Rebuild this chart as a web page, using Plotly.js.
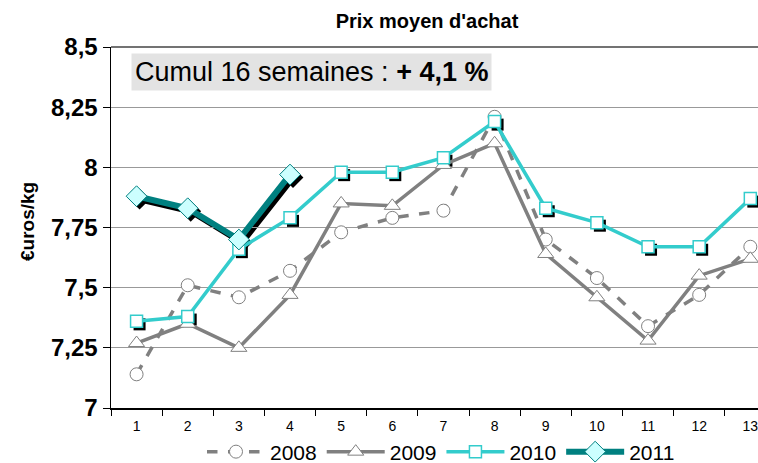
<!DOCTYPE html>
<html><head><meta charset="utf-8">
<script src="https://cdn.plot.ly/plotly-3.0.1.min.js"></script>
<style>body{margin:0;background:#fff}#c{width:758px;height:463px}</style>
</head><body><div id="c"></div>
<script>
const weeks = ["1","2","3","4","5","6","7","8","9","10","11","12","13"];
const y2008 = [7.14,7.51,7.46,7.57,7.73,7.79,7.82,8.21,7.70,7.54,7.34,7.47,7.67];
const y2009 = [7.27,7.35,7.25,7.47,7.85,7.84,8.01,8.10,7.64,7.46,7.28,7.55,7.62];
const y2010 = [7.36,7.38,7.66,7.79,7.98,7.98,8.04,8.19,7.83,7.77,7.67,7.67,7.87];
const y2011 = [7.88,7.83,7.70,7.97];
const weeks2011 = weeks.slice(0, 4);
const yTickVals = [7,7.25,7.5,7.75,8,8.25,8.5];
const yTickText = ["7","7,25","7,5","7,75","8","8,25","8,5"];

const W = 758, H = 463, mL = 111, mR = 0, mT = 47, mB = 55;
const pw = W - mL - mR, ph = H - mT - mB;
const xr = [-0.5, 12.15], yr = [7, 8.5];
const sh = 3;
const dx = sh * (xr[1]-xr[0]) / pw, dy = sh * (yr[1]-yr[0]) / ph;

const F = "Liberation Sans, Arial, sans-serif";
const teal = "#008080", cyan = "#33CCCC", gray = "#808080";

const traces = [
  {x: weeks, y: y2010, xaxis:"x", yaxis:"y", mode:"markers", showlegend:false, hoverinfo:"skip",
   marker:{symbol:"square", size:12, color:"#000"}},
  {x: weeks2011, y: y2011, xaxis:"x", yaxis:"y", mode:"lines+markers", showlegend:false, hoverinfo:"skip",
   line:{color:"#000", width:6}, marker:{symbol:"diamond", size:16, color:"#000"}},
  {x: weeks, y: y2008, xaxis:"x2", yaxis:"y2", name:"2008", mode:"lines+markers",
   line:{color:gray, width:3.5, dash:"dash"},
   marker:{symbol:"circle", size:13, color:"#fff", line:{color:gray, width:1}}},
  {x: weeks, y: y2009, xaxis:"x2", yaxis:"y2", name:"2009", mode:"lines+markers",
   line:{color:gray, width:3.5},
   marker:{symbol:"triangle-up", size:14, color:"#fff", line:{color:gray, width:1}}},
  {x: weeks, y: y2010, xaxis:"x2", yaxis:"y2", name:"2010", mode:"lines+markers",
   line:{color:cyan, width:3.5},
   marker:{symbol:"square", size:12, color:"#fff", line:{color:cyan, width:1.5}}},
  {x: weeks2011, y: y2011, xaxis:"x2", yaxis:"y2", name:"2011", mode:"lines+markers",
   line:{color:teal, width:6},
   marker:{symbol:"diamond", size:16, color:"#CCFFFF", line:{color:teal, width:1}}}
];

const layout = {
  width: W, height: H,
  margin: {l: mL, r: mR, t: mT, b: mB, pad: 0, autoexpand: false},
  paper_bgcolor: "#fff", plot_bgcolor: "rgba(0,0,0,0)",
  font: {family: F, color: "#000"},
  showlegend: true,
  title: {text: "<b>Prix moyen d'achat</b>", font:{size:20, family:F}, x: 427/W, xanchor:"center", xref:"container", y: 1-21/H, yanchor:"middle", yref:"container"},
  xaxis: {type:"category", visible:false, domain:[sh/pw, 1], range:[xr[0], xr[1]-dx]},
  yaxis: {visible:false, domain:[0, 1-sh/ph], range:[yr[0]+dy, yr[1]]},
  xaxis2: {type:"category", anchor:"y2", domain:[0,1], range:xr, tickson:"boundaries",
    ticks:"outside", ticklen:6, tickcolor:"#000", showgrid:false, zeroline:false, automargin:false,
    ticklabelstandoff:5,
    showline:true, linecolor:"#000", linewidth:1.5, tickfont:{size:14, family:F}},
  yaxis2: {anchor:"x2", domain:[0,1], range:yr, tickvals:yTickVals, ticktext:yTickText, automargin:false,
    ticks:"outside", ticklen:7, tickcolor:"#000", showgrid:true, gridcolor:"#999", gridwidth:1,
    zeroline:false, showline:true, linecolor:"#000", linewidth:1.5,
    tickfont:{size:24, family:F, weight:"bold"}},
  shapes: [
    {type:"line", xref:"paper", yref:"paper", x0:0, x1:1, y0:1, y1:1, line:{color:"#444", width:1.5}}
  ],
  annotations: [
    {xref:"paper", yref:"paper", x:(131-mL)/pw, y:1-(72-mT)/ph, xanchor:"left", yanchor:"middle",
     text:"Cumul 16 semaines : <b>+ 4,1 %</b>", showarrow:false, font:{size:27, family:F, color:"#000"},
     bgcolor:"#e3e3e3", borderpad:3, align:"left"},
    {xref:"paper", yref:"paper", x:-(111-27)/pw, y:1-(222-mT)/ph, xanchor:"center", yanchor:"middle",
     text:"<b>€uros/kg</b>", textangle:-90, showarrow:false, font:{size:19, family:F, color:"#000"}}
  ],
  legend: {orientation:"h", x:(441-mL)/pw, xanchor:"center", y:-(452-408)/ph, yanchor:"middle",
    font:{size:21, family:F}, itemwidth:58, tracegroupgap:0, bgcolor:"rgba(0,0,0,0)"}
};

Plotly.newPlot("c", traces, layout, {displayModeBar:false, staticPlot:true});
</script></body></html>
